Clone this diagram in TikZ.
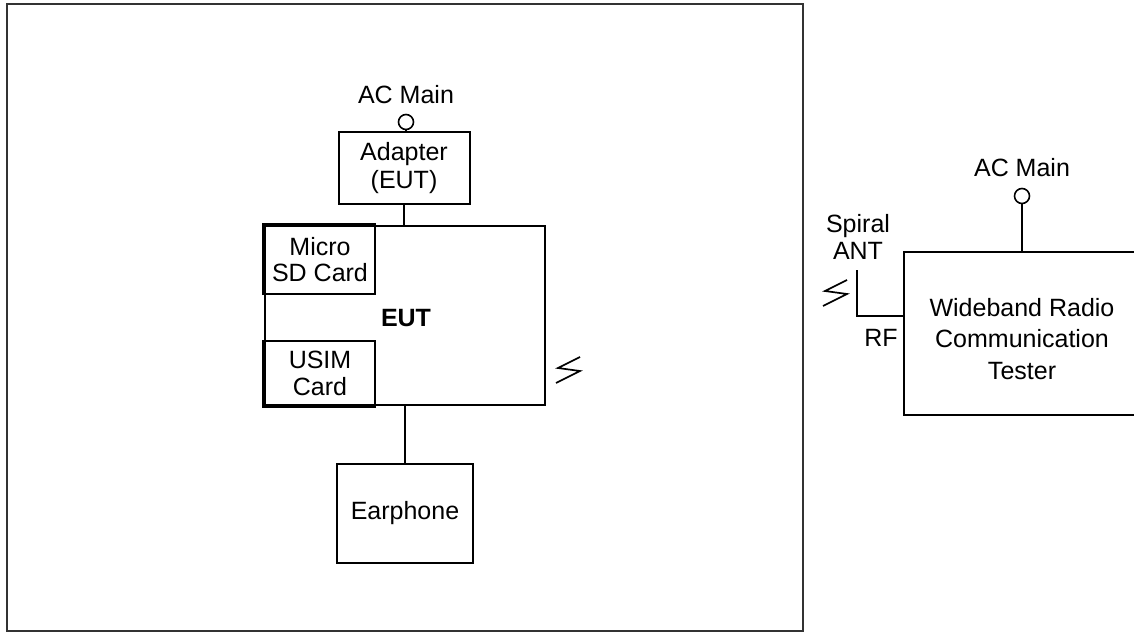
\documentclass[tikz,border=0pt]{standalone}
\usepackage{fontspec}
\setmainfont{Liberation Sans}
\begin{document}
\begin{tikzpicture}[x=1pt,y=-1pt,
  line width=2pt,
  txt/.style={font=\fontsize{25}{28}\selectfont, align=center, inner sep=0pt},
  box/.style={draw, line width=2pt, inner sep=0pt, align=center, font=\fontsize{25}{28}\selectfont},
  plug/.style={draw, circle, line width=1.6pt, minimum size=15pt, inner sep=0pt},
  bolt/.pic={\draw[line width=1.7pt] (12,-13) -- (-10,-2) -- (12,1) -- (-12,13);}
]
\useasboundingbox (0,0) rectangle (1134,632);
% outer frame
\draw[line width=2.8pt, draw=black!80] (7,4) rectangle (803,631);

% left setup
\node[txt] (acl) at (406,95) {AC Main};
\node[plug] (pl1) at (406,122) {};
\node[box, minimum width=131pt, minimum height=72pt] (adapter) at (404,168) {Adapter\\(EUT)};
\node[box, minimum width=280pt, minimum height=179pt] (eut) at (405,315.5) {};
\node[txt, font=\fontsize{25}{28}\selectfont\bfseries] (eutl) at (406,318) {EUT};
\node[box, minimum width=110pt, minimum height=68pt, font=\fontsize{25}{26}\selectfont] (sd) at (320,260) {Micro\\SD Card};
\node[box, minimum width=110pt, minimum height=64pt, font=\fontsize{25}{27}\selectfont] (usim) at (320,373) {USIM\\Card};
\draw[line width=3.6pt] (sd.south west) -- (sd.north west) -- (sd.north east);
\draw[line width=3.6pt] (usim.north west) -- (usim.south west) -- (usim.south east);
\node[box, minimum width=136pt, minimum height=99pt] (ear) at (405,513.5) {Earphone};
\pic at (568,370) {bolt};

\draw (pl1) -- (pl1 |- adapter.north);
\draw (adapter.south) -- (adapter.south |- eut.north);
\draw (eut.south) -- (ear.north);

% right setup
\node[txt] (acr) at (1022,168) {AC Main};
\node[plug] (pl2) at (1022,196) {};
\coordinate (tnw) at (904,252);
\coordinate (tsw) at (904,415);
\draw (1136,252) -- (tnw) -- (tsw) -- (1136,415);
\node[txt, font=\fontsize{25}{31.5}\selectfont] (tester) at (1022,339) {Wideband Radio\\Communication\\Tester};
\draw (pl2) -- (pl2 |- tnw);
\node[txt, font=\fontsize{25}{27}\selectfont] (ant) at (858,237) {Spiral\\ANT};
\coordinate (antt) at (857,270);
\coordinate (antc) at (857,316);
\draw (antt) -- (antc) -- (antc -| tnw);
\node[txt] (rf) at (881,338) {RF};
\pic at (835,293) {bolt};
\end{tikzpicture}
\end{document}
